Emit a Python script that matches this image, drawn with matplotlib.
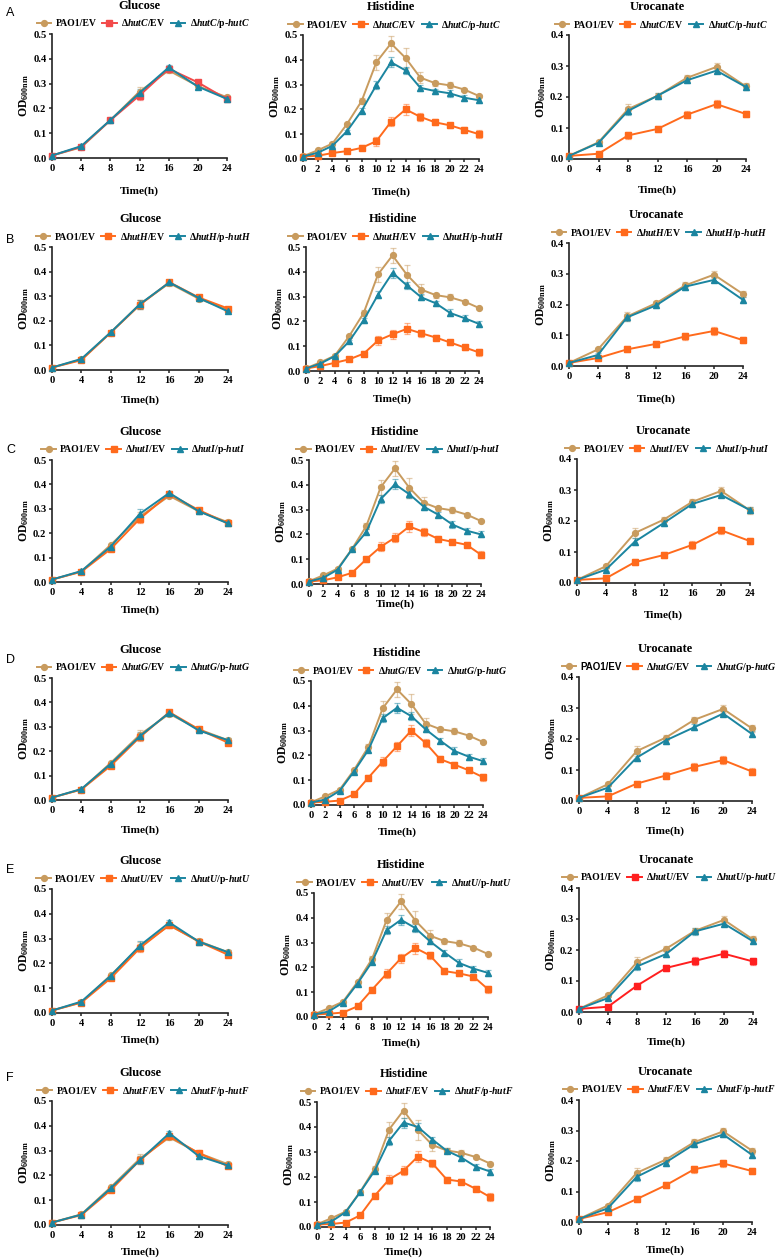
import matplotlib
matplotlib.use('Agg')
import matplotlib.pyplot as plt

plt.rcParams['font.family'] = ['Liberation Serif', 'DejaVu Serif']
plt.rcParams['font.weight'] = 'bold'
plt.rcParams['mathtext.fontset'] = 'custom'
plt.rcParams['mathtext.rm'] = 'Liberation Serif:bold'
plt.rcParams['mathtext.it'] = 'Liberation Serif:bold:italic'
plt.rcParams['mathtext.bf'] = 'Liberation Serif:bold'

# ---------------- data ----------------
t_glu = [0, 4, 8, 12, 16, 20, 24]
t_his = [0, 2, 4, 6, 8, 10, 12, 14, 16, 18, 20, 22, 24]
t_uro = [0, 4, 8, 12, 16, 20, 24]
media = ['Glucose', 'Histidine', 'Urocanate']
genes = ['C', 'H', 'I', 'G', 'U', 'F']
panel_letters = ['A', 'B', 'C', 'D', 'E', 'F']

glu_pao1 = [0.010, 0.043, 0.152, 0.268, 0.353, 0.290, 0.245]
his_pao1_a = [0.011, 0.035, 0.062, 0.141, 0.234, 0.390, 0.466, 0.407, 0.328, 0.306, 0.297, 0.280, 0.254]
his_pao1_b = [0.011, 0.035, 0.062, 0.141, 0.234, 0.390, 0.466, 0.388, 0.328, 0.306, 0.297, 0.280, 0.254]
uro_pao1 = [0.010, 0.054, 0.161, 0.204, 0.262, 0.297, 0.234]

glu_hutC_ev = [0.010, 0.045, 0.152, 0.252, 0.360, 0.305, 0.237]
glu_hutC_cp = [0.010, 0.048, 0.153, 0.262, 0.365, 0.288, 0.238]
his_hutC_ev = [0.010, 0.013, 0.024, 0.032, 0.045, 0.072, 0.150, 0.200, 0.170, 0.148, 0.136, 0.118, 0.100]
his_hutC_cp = [0.010, 0.025, 0.053, 0.112, 0.195, 0.298, 0.390, 0.357, 0.287, 0.274, 0.265, 0.247, 0.237]
uro_hutC_ev = [0.010, 0.017, 0.076, 0.097, 0.143, 0.177, 0.145]
uro_hutC_cp = [0.010, 0.052, 0.155, 0.204, 0.254, 0.285, 0.232]

glu_hutH_ev = [0.010, 0.040, 0.152, 0.265, 0.357, 0.295, 0.250]
glu_hutH_cp = [0.010, 0.045, 0.153, 0.268, 0.356, 0.293, 0.238]
his_hutH_ev = [0.010, 0.020, 0.033, 0.047, 0.070, 0.123, 0.148, 0.170, 0.152, 0.135, 0.115, 0.095, 0.075]
his_hutH_cp = [0.010, 0.030, 0.060, 0.120, 0.205, 0.308, 0.396, 0.345, 0.297, 0.273, 0.234, 0.213, 0.190]
uro_hutH_ev = [0.010, 0.026, 0.054, 0.072, 0.096, 0.114, 0.084]
uro_hutH_cp = [0.010, 0.036, 0.158, 0.197, 0.258, 0.280, 0.215]

glu_hutI_ev = [0.010, 0.042, 0.135, 0.260, 0.360, 0.295, 0.240]
glu_hutI_cp = [0.010, 0.045, 0.145, 0.280, 0.365, 0.290, 0.240]
his_hutI_ev = [0.010, 0.015, 0.027, 0.045, 0.100, 0.150, 0.187, 0.232, 0.210, 0.182, 0.170, 0.158, 0.118]
his_hutI_cp = [0.010, 0.025, 0.058, 0.140, 0.210, 0.342, 0.402, 0.362, 0.312, 0.280, 0.240, 0.215, 0.200]
uro_hutI_ev = [0.010, 0.015, 0.067, 0.090, 0.123, 0.170, 0.135]
uro_hutI_cp = [0.010, 0.043, 0.133, 0.193, 0.255, 0.284, 0.235]

glu_hutG_ev = [0.010, 0.043, 0.140, 0.258, 0.360, 0.290, 0.235]
glu_hutG_cp = [0.010, 0.045, 0.148, 0.262, 0.358, 0.285, 0.245]
his_hutG_ev = [0.010, 0.013, 0.018, 0.043, 0.110, 0.175, 0.237, 0.300, 0.250, 0.185, 0.163, 0.140, 0.112]
his_hutG_cp = [0.010, 0.022, 0.057, 0.135, 0.222, 0.350, 0.392, 0.358, 0.305, 0.260, 0.218, 0.195, 0.177]
uro_hutG_ev = [0.010, 0.015, 0.056, 0.082, 0.110, 0.132, 0.095]
uro_hutG_cp = [0.010, 0.043, 0.140, 0.195, 0.238, 0.282, 0.216]

glu_hutU_ev = [0.010, 0.042, 0.140, 0.262, 0.355, 0.288, 0.235]
glu_hutU_cp = [0.010, 0.046, 0.150, 0.272, 0.365, 0.288, 0.245]
his_hutU_ev = [0.010, 0.013, 0.018, 0.043, 0.110, 0.174, 0.237, 0.278, 0.248, 0.185, 0.176, 0.163, 0.112]
his_hutU_cp = [0.010, 0.022, 0.058, 0.135, 0.222, 0.350, 0.392, 0.358, 0.305, 0.260, 0.218, 0.195, 0.178]
uro_hutU_ev = [0.010, 0.017, 0.085, 0.142, 0.165, 0.188, 0.163]
uro_hutU_cp = [0.010, 0.045, 0.147, 0.187, 0.260, 0.285, 0.228]

glu_hutF_ev = [0.010, 0.040, 0.140, 0.262, 0.358, 0.290, 0.237]
glu_hutF_cp = [0.010, 0.042, 0.148, 0.262, 0.370, 0.278, 0.240]
his_hutF_ev = [0.010, 0.012, 0.018, 0.047, 0.125, 0.190, 0.225, 0.282, 0.255, 0.190, 0.182, 0.153, 0.120]
his_hutF_cp = [0.010, 0.022, 0.060, 0.140, 0.225, 0.345, 0.418, 0.400, 0.350, 0.305, 0.278, 0.242, 0.222]
uro_hutF_ev = [0.010, 0.032, 0.075, 0.120, 0.173, 0.192, 0.167]
uro_hutF_cp = [0.010, 0.045, 0.148, 0.195, 0.255, 0.287, 0.220]

# error bars (estimated)
glu_err = [0.002, 0.004, 0.005, 0.018, 0.010, 0.010, 0.008]
his_err_pao1 = [0.003, 0.006, 0.006, 0.006, 0.012, 0.030, 0.030, 0.040, 0.022, 0.010, 0.012, 0.006, 0.006]
his_err_ev = [0.002, 0.005, 0.005, 0.005, 0.010, 0.018, 0.018, 0.022, 0.015, 0.012, 0.010, 0.010, 0.015]
his_err_cp = [0.002, 0.004, 0.005, 0.006, 0.010, 0.015, 0.020, 0.015, 0.012, 0.010, 0.014, 0.012, 0.012]
uro_err_pao1 = [0.003, 0.006, 0.015, 0.008, 0.010, 0.012, 0.010]
uro_err_ev = [0.002, 0.004, 0.010, 0.010, 0.012, 0.012, 0.010]
uro_err_cp = [0.002, 0.005, 0.012, 0.010, 0.010, 0.008, 0.010]

# ---------------- style / layout ----------------
C_PAO1 = '#C89B5E'
C_MUT = '#FF6A1C'
C_RED = '#F24A4A'
C_RED2 = '#FF1F1F'
C_COMP = '#1B85A0'

# (x0, x1, ytop, ybottom) in pixels for each panel
layout = [
    [(52, 227, 34, 158), (303, 479, 35, 159), (569, 746, 35, 159)],
    [(52, 228, 247, 370), (306, 479, 247, 371), (569, 743, 243, 366)],
    [(52, 228, 460, 582), (309, 481, 460, 584), (577, 750, 459, 583)],
    [(52, 228, 678, 800), (311, 483, 681, 805), (579, 752, 677, 801)],
    [(52, 228, 889, 1013), (314, 488, 893, 1017), (579, 753, 888, 1012)],
    [(52, 228, 1101, 1225), (317, 490, 1102, 1227), (579, 752, 1100, 1222)],
]
xlabel_dist = [
    [33, 33, 31], [30, 28, 33], [28, 20, 32], [30, 27, 30], [27, 26, 30], [27, 25, 28]
]
letter_y = [13, 240, 450, 660, 870, 1078]

W, H = 777, 1260
fig = plt.figure(figsize=(W / 100, H / 100), dpi=100)

data = {
    'C': (glu_hutC_ev, glu_hutC_cp, his_hutC_ev, his_hutC_cp, uro_hutC_ev, uro_hutC_cp),
    'H': (glu_hutH_ev, glu_hutH_cp, his_hutH_ev, his_hutH_cp, uro_hutH_ev, uro_hutH_cp),
    'I': (glu_hutI_ev, glu_hutI_cp, his_hutI_ev, his_hutI_cp, uro_hutI_ev, uro_hutI_cp),
    'G': (glu_hutG_ev, glu_hutG_cp, his_hutG_ev, his_hutG_cp, uro_hutG_ev, uro_hutG_cp),
    'U': (glu_hutU_ev, glu_hutU_cp, his_hutU_ev, his_hutU_cp, uro_hutU_ev, uro_hutU_cp),
    'F': (glu_hutF_ev, glu_hutF_cp, his_hutF_ev, his_hutF_cp, uro_hutF_ev, uro_hutF_cp),
}


def series(ax, t, y, e, color, marker, ms, label):
    ax.errorbar(t, y, yerr=e, fmt='none', ecolor=color, alpha=0.5,
                capsize=2.2, elinewidth=0.9, capthick=0.9, clip_on=False, zorder=2)
    ln, = ax.plot(t, y, color=color, marker=marker, ms=ms, lw=1.4,
                  clip_on=False, zorder=3, label=label)
    return ln


for r, g in enumerate(genes):
    gl_ev, gl_cp, hi_ev, hi_cp, ur_ev, ur_cp = data[g]
    his_p = his_pao1_a if g in ('C', 'G') else his_pao1_b
    panels = [
        (t_glu, glu_pao1, glu_err, gl_ev, glu_err, gl_cp, glu_err, 0.5, t_glu),
        (t_his, his_p, his_err_pao1, hi_ev, his_err_ev, hi_cp, his_err_cp, 0.5, t_his),
        (t_uro, uro_pao1, uro_err_pao1, ur_ev, uro_err_ev, ur_cp, uro_err_cp, 0.4, t_uro),
    ]
    for c in range(3):
        x0, x1, yt, yb = layout[r][c]
        ax = fig.add_axes([x0 / W, 1 - yb / H, (x1 - x0) / W, (yb - yt) / H])
        w_px, h_px = x1 - x0, yb - yt
        t, yp, ep, ye, ee, yc, ec, ymax, xt = panels[c]
        mcol = C_MUT
        if r == 0 and c == 0:
            mcol = C_RED
        if r == 4 and c == 2:
            mcol = C_RED2
        h1 = series(ax, t, yp, ep, C_PAO1, 'o', 4.2, 'PAO1/EV')
        h2 = series(ax, t, ye, ee, mcol, 's', 4.6, r'Δ$\mathit{hut%s}$/EV' % g)
        h3 = series(ax, t, yc, ec, C_COMP, '^', 4.2, r'Δ$\mathit{hut%s}$/p-$\mathit{hut%s}$' % (g, g))
        ax.set_xlim(0, 24)
        ax.set_ylim(0, ymax)
        ax.set_xticks(xt)
        yt_vals = [0.0, 0.1, 0.2, 0.3, 0.4, 0.5] if ymax == 0.5 else [0.0, 0.1, 0.2, 0.3, 0.4]
        ax.set_yticks(yt_vals)
        ax.set_yticklabels(['%.1f' % v for v in yt_vals])
        for s in ('top', 'right'):
            ax.spines[s].set_visible(False)
        for s in ('left', 'bottom'):
            ax.spines[s].set_linewidth(1.2)
            ax.spines[s].set_color('#222222')
        ax.tick_params(direction='out', length=2.5, width=1.1, color='#222222',
                       labelsize=7.6, pad=1.5)
        for lab in ax.get_xticklabels() + ax.get_yticklabels():
            lab.set_fontweight('bold')
        ax.set_xlabel('Time(h)', fontsize=8.2, fontweight='bold')
        d = xlabel_dist[r][c]
        ax.xaxis.set_label_coords(0.5, -(d - 5) / h_px)
        ax.set_ylabel(r'OD$_{\mathrm{600nm}}$', fontsize=8.4, fontweight='bold')
        ax.yaxis.set_label_coords(-(27 - 6) / w_px, 0.5)
        ax.text(0.5, 1 + 28 / h_px, media[c], transform=ax.transAxes,
                ha='center', va='center', fontsize=9.0, fontweight='bold')
        leg = ax.legend(handles=[h1, h2, h3], loc='center', ncol=3,
                        bbox_to_anchor=(0.52, 1 + 10 / h_px), frameon=False,
                        fontsize=7.0, handlelength=1.5, handletextpad=0.45,
                        columnspacing=0.55, borderpad=0, borderaxespad=0)
        if r == 3 and c == 2:
            leg.get_texts()[0].set_fontfamily('Liberation Sans')
    fig.text(6 / W, 1 - letter_y[r] / H, panel_letters[r], ha='left', va='center',
             fontsize=9, fontfamily='Liberation Sans', fontweight='normal')

fig.savefig('out.png', dpi=100, facecolor='white')
